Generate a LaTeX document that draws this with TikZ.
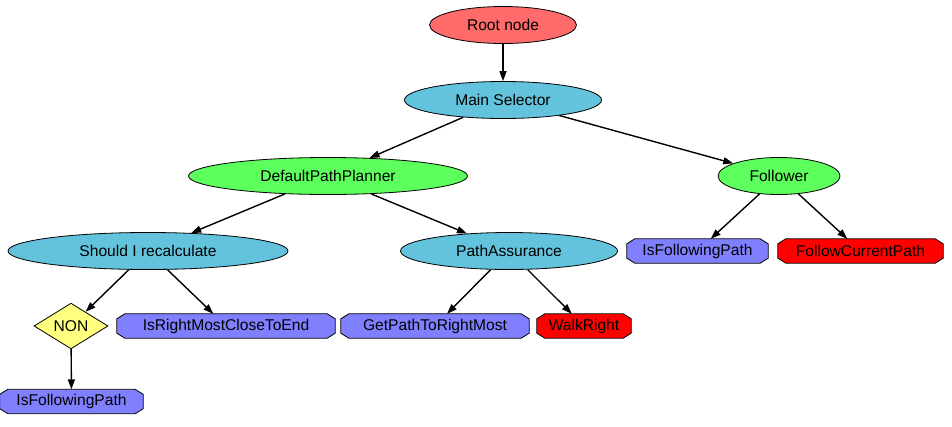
\documentclass[tikz,border=0pt]{standalone}
\usepackage{fontspec}
\setmainfont{Liberation Sans}
\usetikzlibrary{shapes.geometric,arrows.meta,backgrounds}
\definecolor{rootred}{HTML}{FF6A6A}
\definecolor{selblue}{HTML}{63C3DC}
\definecolor{seqgreen}{HTML}{5CFF5C}
\definecolor{condblue}{HTML}{8080FF}
\definecolor{actred}{HTML}{FF0000}
\definecolor{decoyel}{HTML}{FFFF80}
\tikzset{
  base/.style={draw=black, line width=0.8pt, inner sep=0pt, font=\fontsize{15.6}{18}\selectfont, text=black},
  ell/.style={base, ellipse, minimum height=37pt},
  octtext/.style={rectangle, inner sep=0pt, minimum height=24pt, font=\fontsize{15.6}{18}\selectfont, text=black},
  octline/.style={draw=black, line width=0.8pt},
  dia/.style={base, diamond, fill=decoyel, minimum width=74pt, minimum height=38pt},
  edge/.style={line width=1.4pt, -{Triangle[length=10pt,width=7pt]}},
}
\newcommand\octnode[5]{%
  \node[octtext, minimum width=#3] (#1) at (#4) {#5};
  \begin{pgfonlayer}{background}
  \filldraw[octline, fill=#2] ([xshift=8pt]#1.north west) -- ([xshift=-8pt]#1.north east)
    -- ([yshift=-5pt]#1.north east) -- ([yshift=5pt]#1.south east)
    -- ([xshift=-8pt]#1.south east) -- ([xshift=8pt]#1.south west)
    -- ([yshift=5pt]#1.south west) -- ([yshift=-5pt]#1.north west) -- cycle;
  \end{pgfonlayer}}
\begin{document}
\begin{tikzpicture}[x=1pt,y=-1pt]
\useasboundingbox (0,0) rectangle (952,426);
\node[ell, fill=rootred, minimum width=147pt] (root) at (503,25) {Root node};
\node[ell, fill=selblue, minimum width=197pt] (main) at (503,100) {Main Selector};
\node[ell, fill=seqgreen, minimum width=279pt] (dpp) at (328,176) {DefaultPathPlanner};
\node[ell, fill=seqgreen, minimum width=122pt] (fol) at (779,176) {Follower};
\node[ell, fill=selblue, minimum width=280pt] (sir) at (148,251) {Should I recalculate};
\node[ell, fill=selblue, minimum width=217pt] (pa) at (509,251) {PathAssurance};
\octnode{ifp2}{condblue}{141pt}{697.5,251}{IsFollowingPath}
\octnode{fcp}{actred}{165pt}{860.5,251}{FollowCurrentPath}
\node[dia] (non) at (71,326) {NON};
\octnode{irm}{condblue}{218pt}{226,326}{IsRightMostCloseToEnd}
\octnode{gpr}{condblue}{188pt}{435,326}{GetPathToRightMost}
\octnode{wr}{actred}{94pt}{584,326}{WalkRight}
\octnode{ifp1}{condblue}{143pt}{71.5,401.5}{IsFollowingPath}
\draw[edge] (root) -- (main);
\draw[edge] (main) -- (dpp);
\draw[edge] (main) -- (fol);
\draw[edge] (dpp) -- (sir);
\draw[edge] (dpp) -- (pa);
\draw[edge] (fol) -- (ifp2);
\draw[edge] (fol) -- (fcp);
\draw[edge] (sir) -- (non);
\draw[edge] (sir) -- (irm);
\draw[edge] (pa) -- (gpr);
\draw[edge] (pa) -- (wr);
\draw[edge] (non) -- (ifp1);
\end{tikzpicture}
\end{document}
